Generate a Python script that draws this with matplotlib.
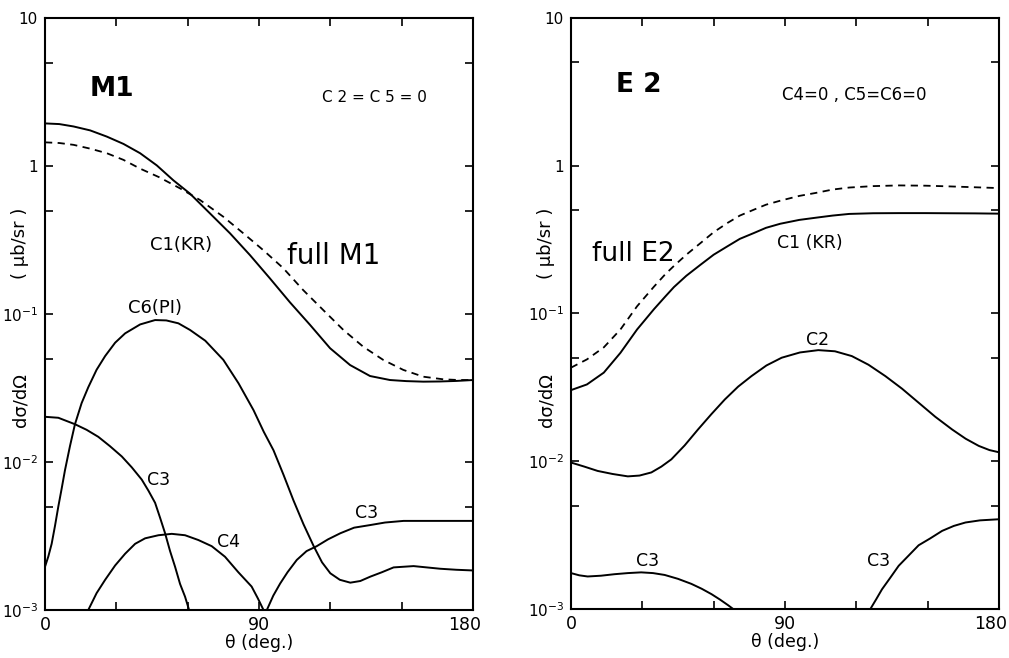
import numpy as np
import matplotlib
matplotlib.use("Agg")
import matplotlib.pyplot as plt
from matplotlib.ticker import NullFormatter
from matplotlib.transforms import ScaledTranslation

plt.rcParams['font.family'] = ['DejaVu Sans']
plt.rcParams['mathtext.default'] = 'regular'

# ---- M1 panel ----
m1_c1_th = [0, 6, 12, 19, 26, 33, 40, 47, 54, 61, 69.4, 77.8, 86.2, 94.6, 103, 111.5, 119.9,
            128.3, 136.7, 145.1, 152, 159.1, 166, 173, 180]
m1_c1 = [1.94, 1.92, 1.85, 1.74, 1.58, 1.41, 1.22, 1.01, 0.80, 0.65, 0.478, 0.351, 0.25, 0.174,
         0.12, 0.0843, 0.0587, 0.0452, 0.0381, 0.0358, 0.0352, 0.0349, 0.035, 0.0353, 0.0358]

m1_full_th = [0, 6, 12, 19, 26, 33, 40, 48, 56.8, 65.2, 75, 83.4, 91.8, 100.2, 108.6, 117.1,
              125.5, 133.9, 142.3, 150.7, 159.1, 167.5, 174, 180]
m1_full = [1.445, 1.43, 1.39, 1.31, 1.22, 1.10, 0.96, 0.84, 0.706, 0.589, 0.454, 0.351, 0.27,
           0.204, 0.145, 0.106, 0.078, 0.060, 0.0489, 0.0419, 0.0377, 0.0362, 0.0358, 0.0358]

m1_c6_th = [0, 1.4, 2.8, 4.2, 5.6, 7, 8.4, 10.5, 12.6, 15.4, 18.2, 21.7, 25.3, 29.5, 33.7, 40,
            46.3, 51, 56.1, 61, 67.4, 75, 81.4, 87.7, 92, 96.1, 100.3, 104.5, 108.7, 113, 116.5,
            120, 124, 128.4, 132.6, 136.8, 141.7, 146.6, 155, 166.2, 173, 180]
m1_c6 = [0.00196, 0.0023, 0.0028, 0.0037, 0.0050, 0.0066, 0.0088, 0.0128, 0.018, 0.025, 0.032,
         0.042, 0.052, 0.064, 0.074, 0.085, 0.091, 0.0905, 0.0865, 0.078, 0.066, 0.049, 0.034,
         0.0224, 0.016, 0.012, 0.0082, 0.0055, 0.0038, 0.0027, 0.0021, 0.00177, 0.0016, 0.00153,
         0.00157, 0.00168, 0.0018, 0.00194, 0.00198, 0.0019, 0.00187, 0.00185]

m1_c3a_th = [0, 5.6, 12.6, 17.5, 22.4, 27.3, 32.3, 36.5, 40.7, 43.5, 46.3, 48.4, 50.5, 52.6,
             54.7, 56.8, 58.9, 60.6, 62]
m1_c3a = [0.0202, 0.0199, 0.018, 0.0165, 0.0148, 0.0128, 0.0109, 0.0092, 0.0076, 0.0064, 0.0053,
          0.0042, 0.0033, 0.0025, 0.00196, 0.0015, 0.00123, 0.001, 0.00085]

m1_c4_th = [17, 18.2, 21.7, 25.3, 29.5, 33.7, 37.9, 42.1, 47.7, 53.3, 58.9, 64.5, 70.1, 75.7,
            81.3, 86.9, 89.5, 91.9, 92.5]
m1_c4 = [0.0008, 0.001, 0.0013, 0.0016, 0.002, 0.0024, 0.0028, 0.00305, 0.0032, 0.00327, 0.0032,
         0.00297, 0.0027, 0.00229, 0.0018, 0.00144, 0.0012, 0.001, 0.0009]

m1_c3b_th = [92.8, 93.3, 96, 98.9, 102, 105.9, 110, 114.3, 119, 124.2, 130, 136.8, 143, 150.8,
             158, 166.2, 180]
m1_c3b = [0.0009, 0.001, 0.00125, 0.00151, 0.0018, 0.00218, 0.0025, 0.0027, 0.003, 0.0033,
          0.0036, 0.00375, 0.0039, 0.0040, 0.0040, 0.0040, 0.0040]

# ---- E2 panel ----
e2_th = [0, 6.7, 13.8, 20.8, 27.8, 34.9, 39.6, 43.3, 48.5, 54.5, 60, 65.8, 71, 77, 82, 88, 96,
         103, 110, 117, 127, 138, 149, 159, 170, 180]
e2_full = [0.043, 0.0489, 0.059, 0.078, 0.112, 0.152, 0.184, 0.21, 0.25, 0.30, 0.355, 0.41,
           0.46, 0.505, 0.545, 0.58, 0.625, 0.655, 0.69, 0.712, 0.728, 0.736, 0.733, 0.725,
           0.715, 0.706]
e2_c1 = [0.0303, 0.0331, 0.0398, 0.0542, 0.078, 0.107, 0.13, 0.151, 0.18, 0.214, 0.25, 0.285,
         0.32, 0.351, 0.38, 0.405, 0.43, 0.445, 0.46, 0.472, 0.477, 0.478, 0.478, 0.477, 0.476,
         0.474]

e2_c2_th = [0, 5.6, 11.2, 17.5, 23.9, 28.8, 33.8, 38, 42.2, 47.8, 53.4, 59, 64.7, 70.3, 75.9,
            82.2, 88.6, 96.3, 104, 111, 118.1, 125.1, 132.2, 139.2, 146.2, 153.2, 160.3, 166,
            171.5, 176, 180]
e2_c2 = [0.0098, 0.0092, 0.0086, 0.0082, 0.0079, 0.0080, 0.0084, 0.0092, 0.0103, 0.0128, 0.0164,
         0.0208, 0.0262, 0.032, 0.0377, 0.0445, 0.0502, 0.0545, 0.0565, 0.0555, 0.0515, 0.045,
         0.0377, 0.031, 0.0249, 0.0200, 0.0164, 0.0142, 0.0127, 0.0119, 0.0115]

e2_c3a_th = [0, 3.5, 7, 12.6, 18.3, 23.9, 29.5, 34.5, 39.4, 45, 50.6, 55, 59.1, 62.6, 66.1, 68.2,
             69.5]
e2_c3a = [0.00175, 0.00169, 0.00166, 0.00168, 0.00172, 0.00175, 0.00177, 0.00175, 0.0017, 0.0016,
          0.00148, 0.00137, 0.00126, 0.00116, 0.00106, 0.001, 0.00095]

e2_c3b_th = [125, 125.9, 128.3, 130.8, 134.3, 137.8, 142, 146.2, 151, 156.1, 161, 165.9, 172, 180]
e2_c3b = [0.0009, 0.001, 0.00116, 0.00136, 0.00163, 0.00196, 0.0023, 0.0027, 0.0030, 0.00338,
          0.00365, 0.00385, 0.00398, 0.00405]

yticks = [1e-3, 1e-2, 1e-1, 1, 10]
ytick_labels = [r'$10^{-3}$', r'$10^{-2}$', r'$10^{-1}$', '1', '10']
yminor = [5e-3, 5e-2, 5e-1, 5]
xticks = [0, 30, 60, 90, 120, 150, 180]
xtick_labels = ['0', '', '', '90', '', '', '180']


def setup(ax, fig):
    ax.set_yscale('log')
    ax.set_xlim(0, 180)
    ax.set_ylim(1e-3, 10)
    ax.set_yticks(yticks)
    ax.set_yticklabels(ytick_labels)
    ax.set_yticks(yminor, minor=True)
    ax.yaxis.set_minor_formatter(NullFormatter())
    ax.set_xticks(xticks)
    ax.set_xticklabels(xtick_labels)
    ax.tick_params(which='both', direction='in', top=True, right=True,
                   length=6, width=1.2, color='black')
    ax.tick_params(axis='x', labelsize=12.5, pad=4)
    ax.tick_params(axis='y', labelsize=11, pad=5)
    for s in ax.spines.values():
        s.set_linewidth(1.5)
    ax.set_xlabel('θ (deg.)', fontsize=12.5, labelpad=0)
    # the "180" sits a little left of its tick in the original
    lbl = ax.get_xticklabels()[-1]
    lbl.set_transform(lbl.get_transform() + ScaledTranslation(-8 / 100, 0, fig.dpi_scale_trans))


fig = plt.figure(figsize=(10.09, 6.58), dpi=100)
ax1 = fig.add_axes([45 / 1009, 1 - 610 / 658, 428 / 1009, 592 / 658])
ax2 = fig.add_axes([571 / 1009, 1 - 609 / 658, 428 / 1009, 591 / 658])

lw = 1.4
ax1.plot(m1_c1_th, m1_c1, color='black', lw=lw)
ax1.plot(m1_full_th, m1_full, color='black', lw=1.3, dashes=(4, 3))
ax1.plot(m1_c6_th, m1_c6, color='black', lw=lw)
ax1.plot(m1_c3a_th, m1_c3a, color='black', lw=lw)
ax1.plot(m1_c4_th, m1_c4, color='black', lw=lw)
ax1.plot(m1_c3b_th, m1_c3b, color='black', lw=lw)

ax2.plot(e2_th, e2_full, color='black', lw=1.3, dashes=(4, 3))
ax2.plot(e2_th, e2_c1, color='black', lw=lw)
ax2.plot(e2_c2_th, e2_c2, color='black', lw=lw)
ax2.plot(e2_c3a_th, e2_c3a, color='black', lw=lw)
ax2.plot(e2_c3b_th, e2_c3b, color='black', lw=lw)

for ax in (ax1, ax2):
    setup(ax, fig)

# labels on the M1 panel
ax1.text(18.9, 3.3, 'M1', fontsize=19, fontweight='bold', va='center', ha='left')
ax1.text(116.5, 2.9, 'C 2 = C 5 = 0', fontsize=11, va='center', ha='left')
ax1.text(44.2, 0.292, 'C1(KR)', fontsize=13, va='center', ha='left')
ax1.text(101.8, 0.246, 'full M1', fontsize=20, va='center', ha='left')
ax1.text(34.9, 0.109, 'C6(PI)', fontsize=13, va='center', ha='left')
ax1.text(42.9, 0.0076, 'C3', fontsize=12.5, va='center', ha='left')
ax1.text(72.3, 0.0029, 'C4', fontsize=12.5, va='center', ha='left')
ax1.text(130.4, 0.0045, 'C3', fontsize=12.5, va='center', ha='left')

# labels on the E2 panel
ax2.text(18.9, 3.5, 'E 2', fontsize=19, fontweight='bold', va='center', ha='left')
ax2.text(88.7, 2.99, 'C4=0 , C5=C6=0', fontsize=12, va='center', ha='left')
ax2.text(8.8, 0.252, 'full E2', fontsize=19, va='center', ha='left')
ax2.text(86.6, 0.30, 'C1 (KR)', fontsize=12.5, va='center', ha='left')
ax2.text(98.8, 0.066, 'C2', fontsize=12.5, va='center', ha='left')
ax2.text(27.3, 0.0021, 'C3', fontsize=12.5, va='center', ha='left')
ax2.text(124.5, 0.0021, 'C3', fontsize=12.5, va='center', ha='left')

# y axis titles, split in two pieces like the original
for xpix in (20, 546):
    fig.text(xpix / 1009, 1 - 243 / 658, '( μb/sr )', rotation=90, fontsize=13,
             ha='center', va='center')
    fig.text(xpix / 1009, 1 - 400 / 658, 'dσ/dΩ', rotation=90, fontsize=13,
             ha='center', va='center')

fig.savefig('out.png', dpi=100, facecolor='white')
